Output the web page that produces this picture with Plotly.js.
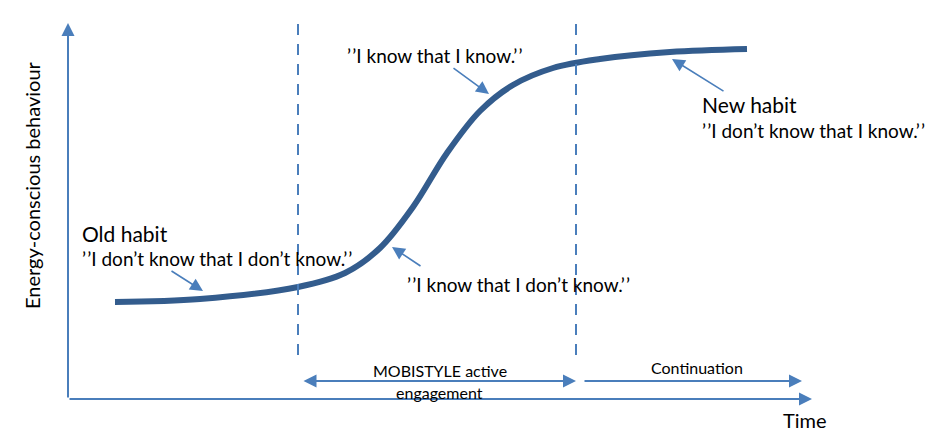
<!DOCTYPE html>
<html><head><meta charset="utf-8">
<script src="https://cdn.plot.ly/plotly-3.0.1.min.js"></script>
<style>html,body{margin:0;padding:0;background:#fff}#chart{width:940px;height:442px}</style>
</head><body><div id="chart"></div>
<script>
// S-curve of energy-conscious behaviour over time (units measured from axis origin)
const curveTime      = [47, 132, 230, 277, 312, 345, 379, 412, 445, 485, 532, 602, 679];
const curveBehaviour = [97, 100, 112, 126, 151, 192, 246, 288, 314, 331, 340, 347, 350];

// Phase boundaries (time) and their vertical extent (behaviour)
const phaseBoundaries = [230, 508];
const boundaryExtent = [44, 377];

// Axis extents
const timeAxisEnd = 744;
const behaviourAxisEnd = 376;

// Phase arrows: [start, end] in time, at behaviour level
const engagementSpan = [234, 508];
const continuationSpan = [515, 734];
const phaseArrowLevel = 18;

// Labels
const Q = '’\u200A’';
const yTitle = 'Energy-conscious behaviour';
const xTitle = 'Time';
const oldHabit = 'Old habit';
const oldQuote = Q + 'I don’t know that I don’t know.' + Q;
const knowDontQuote = Q + 'I know that I don’t know.' + Q;
const knowKnowQuote = Q + 'I know that I know.' + Q;
const newHabit = 'New habit';
const newQuote = Q + 'I don’t know that I know.' + Q;
const engagementLines = ['MOBISTYLE active', 'engagement'];
const continuationLabel = 'Continuation';

// Label anchor positions [time, behaviour]
const oldHabitPos = [12, 166];
const oldQuotePos = [12, 141];
const knowDontPos = [337, 115];
const knowKnowPos = [277, 344];
const newHabitPos = [632, 295];
const newQuotePos = [632, 269];
const engagementPos = [[372, 29], [371, 7]];
const continuationPos = [629, 32];
const yTitlePos = [-36, 214];
const xTitlePos = [737, -21];

// Pointer arrows: [tailTime, tailBehaviour, headTime, headBehaviour]
const pointers = [
  [102, 129, 135, 108],
  [354, 132, 324, 152],
  [384, 332, 421, 305],
  [657, 307, 604, 340]
];

const AX = '#4A7EBB';
const CURVE = '#335C8D';
const FONT = 'Lato, "Open Sans", sans-serif';

const traces = [
  {x: curveTime, y: curveBehaviour, mode: 'lines', type: 'scatter',
   line: {color: CURVE, width: 6, shape: 'spline', smoothing: 1}, hoverinfo: 'skip'}
];
phaseBoundaries.forEach(t => traces.push({
  x: [t, t], y: boundaryExtent, mode: 'lines', type: 'scatter',
  line: {color: AX, width: 2, dash: '11px,9px'}, hoverinfo: 'skip'
}));

function arrow(x, y, ax, ay, w, s, both) {
  const a = {x: x, y: y, ax: ax, ay: ay, xref: 'x', yref: 'y', axref: 'x', ayref: 'y',
    text: '', showarrow: true, arrowhead: 2, arrowsize: s, arrowwidth: w, arrowcolor: AX, standoff: 0, startstandoff: 0};
  if (both) { a.arrowside = 'end+start'; a.startarrowhead = 2; a.startarrowsize = s; }
  return a;
}
function label(text, pos, size, xanchor, angle) {
  return {x: pos[0], y: pos[1], xref: 'x', yref: 'y', text: text, showarrow: false,
    xanchor: xanchor || 'left', yanchor: 'middle', textangle: angle || 0,
    font: {family: FONT, size: size, color: '#000'}};
}

const annotations = [
  arrow(timeAxisEnd, 0, 0, 0, 2, 1.3),
  arrow(0, behaviourAxisEnd, 0, 0, 2, 1.3),
  arrow(engagementSpan[1], phaseArrowLevel, engagementSpan[0], phaseArrowLevel, 2, 1.3, true),
  arrow(continuationSpan[1], phaseArrowLevel, continuationSpan[0], phaseArrowLevel, 2, 1.3)
];
pointers.forEach(p => annotations.push(arrow(p[2], p[3], p[0], p[1], 1.6, 1.6)));

annotations.push(
  label(yTitle, yTitlePos, 20, 'center', -90),
  label(xTitle, xTitlePos, 20, 'center'),
  label(oldHabit, oldHabitPos, 21),
  label(oldQuote, oldQuotePos, 19),
  label(knowDontQuote, knowDontPos, 19),
  label(knowKnowQuote, knowKnowPos, 19),
  label(newHabit, newHabitPos, 21),
  label(newQuote, newQuotePos, 19),
  label(engagementLines[0], engagementPos[0], 16, 'center'),
  label(engagementLines[1], engagementPos[1], 16, 'center'),
  label(continuationLabel, continuationPos, 16, 'center')
);

const layout = {
  width: 940, height: 442,
  margin: {l: 0, r: 0, t: 0, b: 0},
  paper_bgcolor: '#fff', plot_bgcolor: '#fff',
  showlegend: false,
  xaxis: {range: [-68, 872], visible: false, fixedrange: true},
  yaxis: {range: [-43, 399], visible: false, fixedrange: true},
  annotations: annotations
};
Plotly.newPlot('chart', traces, layout, {displayModeBar: false, staticPlot: true});
</script>
</body></html>
